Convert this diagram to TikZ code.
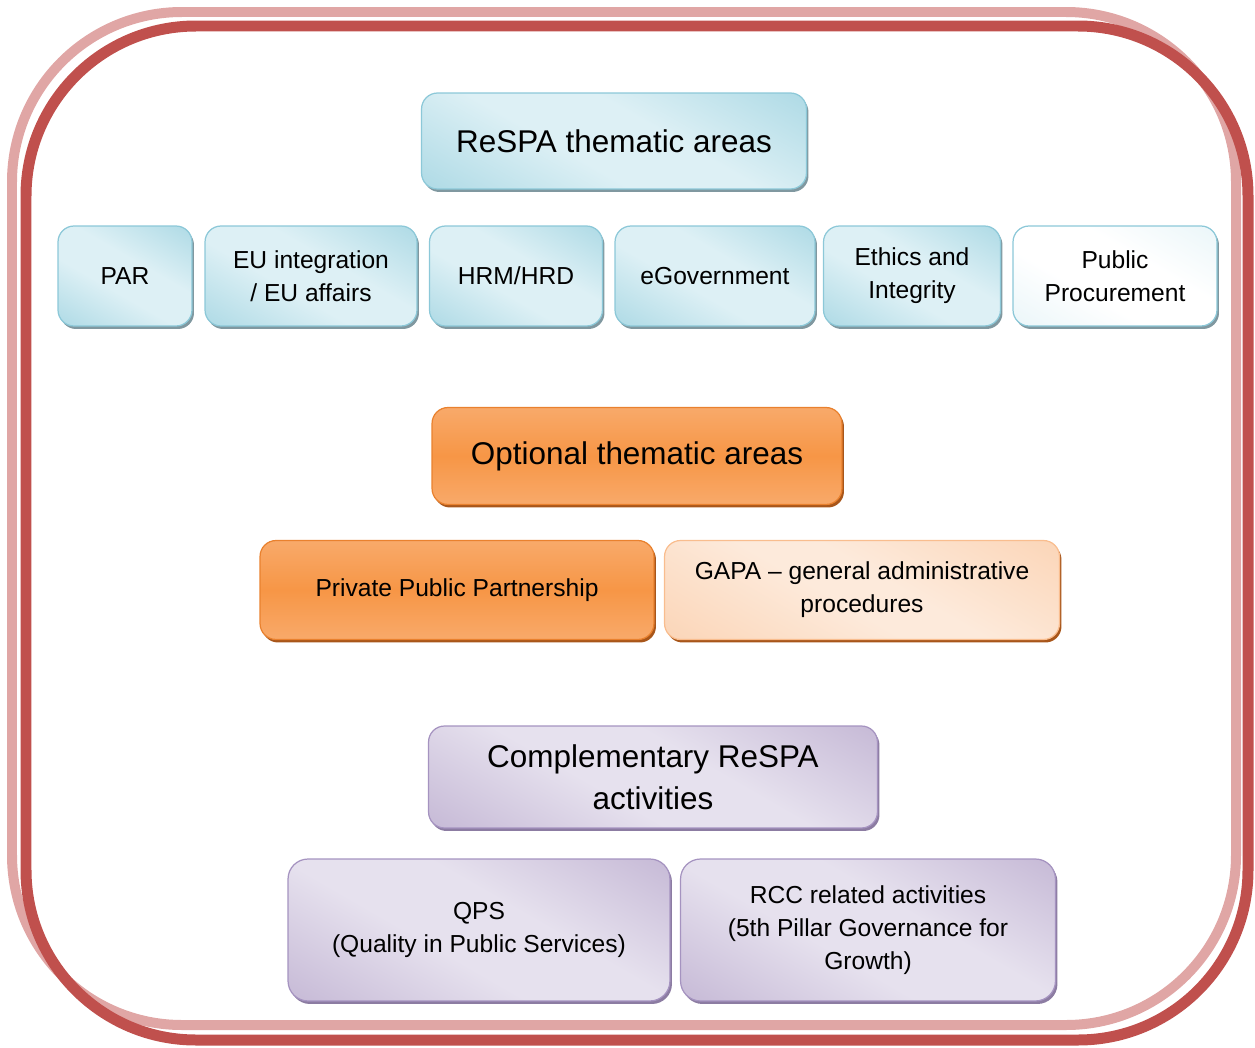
\documentclass[tikz,border=0pt]{standalone}
\usepackage{fontspec}
\setmainfont{Liberation Sans}
\usetikzlibrary{shadows}
\definecolor{rsframe}{HTML}{C0504D}
\definecolor{rsframelight}{HTML}{E0A6A5}
\definecolor{rsblue}{HTML}{92CDDC}
\definecolor{rsbluelight}{HTML}{DDF0F5}
\definecolor{rsblueline}{HTML}{8CC8D8}
\definecolor{rsblueshadow}{HTML}{8098A0}
\definecolor{rsorange}{HTML}{F79646}
\definecolor{rsorangelight}{HTML}{F9BD8E}
\definecolor{rsorangepale}{HTML}{FDEADB}
\definecolor{rsorangeline}{HTML}{E9812E}
\definecolor{rsorangeshadow}{HTML}{A8561A}
\definecolor{rspurple}{HTML}{B3A2C8}
\definecolor{rspurplelight}{HTML}{E6E1EE}
\definecolor{rspurpleline}{HTML}{A593C0}
\definecolor{rspurpleshadow}{HTML}{8C7CA2}

\pgfdeclarehorizontalshading{bluegrad}{100bp}{color(0bp)=(rsblue); color(42bp)=(rsbluelight); color(58bp)=(rsbluelight); color(100bp)=(rsblue)}
\pgfdeclarehorizontalshading{palebluegrad}{100bp}{color(0bp)=(rsbluelight); color(40bp)=(white); color(60bp)=(white); color(100bp)=(rsbluelight)}
\pgfdeclareverticalshading{orangegrad}{100bp}{color(0bp)=(rsorangelight); color(50bp)=(rsorange); color(100bp)=(rsorangelight)}
\pgfdeclarehorizontalshading{peachgrad}{100bp}{color(0bp)=(rsorangelight!80); color(45bp)=(rsorangepale); color(55bp)=(rsorangepale); color(100bp)=(rsorangelight!80)}
\pgfdeclarehorizontalshading{purplegrad}{100bp}{color(0bp)=(rspurple); color(42bp)=(rspurplelight); color(58bp)=(rspurplelight); color(100bp)=(rspurple)}

\newcommand{\smalltxt}{\fontsize{14}{18.8}\selectfont}
\newcommand{\bigtxt}{\fontsize{17.9}{23.9}\selectfont}

\tikzset{
  area/.style={rounded corners=0.32cm, line width=0.7pt, align=center,
               inner sep=0pt, font=\smalltxt},
  bluebox/.style={area, draw=rsblueline, shading=bluegrad, shading angle=60,
                  drop shadow={shadow xshift=0.04cm,shadow yshift=-0.06cm,
                  fill=rsblueshadow,opacity=1}},
  paleblue/.style={bluebox, shading=palebluegrad},
  orangebox/.style={area, draw=rsorangeline, shading=orangegrad,
                  drop shadow={shadow xshift=0.04cm,shadow yshift=-0.06cm,
                  fill=rsorangeshadow,opacity=1}},
  peachbox/.style={orangebox, draw=rsorangelight, shading=peachgrad, shading angle=60},
  purplebox/.style={area, draw=rspurpleline, shading=purplegrad, shading angle=60,
                  drop shadow={shadow xshift=0.04cm,shadow yshift=-0.06cm,
                  fill=rspurpleshadow,opacity=1}},
}

\begin{document}
\begin{tikzpicture}[x=0.02cm,y=-0.02cm]
    \useasboundingbox (0,0) rectangle (1255,1048);
    % frame
    \draw[rsframelight,line width=0.2cm,rounded corners=3.4cm] (12,12) rectangle (1236,1025);
    \draw[rsframe,line width=0.22cm,rounded corners=3.4cm] (26,26) rectangle (1248,1040);
    % ReSPA thematic areas
    \node[bluebox,font=\bigtxt,minimum width=7.7cm,minimum height=1.92cm] (respa) at (614,141) {ReSPA thematic areas};
    \node[bluebox,minimum width=2.68cm,minimum height=2cm] (par) at (125,276) {PAR};
    \node[bluebox,minimum width=4.24cm,minimum height=2cm] (eu) at (311,276) {EU integration\\/ EU affairs};
    \node[bluebox,minimum width=3.46cm,minimum height=2cm] (hrm) at (516,276) {HRM/HRD};
    \node[bluebox,minimum width=4cm,minimum height=2cm] (egov) at (715,276) {eGovernment};
    \node[bluebox,minimum width=3.54cm,minimum height=2cm] (ethics) at (912,276) {Ethics and\\Integrity};
    \node[paleblue,minimum width=4.08cm,minimum height=2cm] (procure) at (1115,276) {Public\\Procurement};
    % optional areas
    \node[orangebox,font=\bigtxt,minimum width=8.2cm,minimum height=1.94cm] (optional) at (637,456) {Optional thematic areas};
    \node[orangebox,minimum width=7.88cm,minimum height=1.98cm] (ppp) at (457,590) {Private Public Partnership};
    \node[peachbox,minimum width=7.9cm,minimum height=1.98cm] (gapa) at (862,590) {GAPA -- general administrative\\procedures};
    % complementary activities
    \node[purplebox,font=\bigtxt,minimum width=8.98cm,minimum height=2.04cm] (compl) at (653,777) {Complementary ReSPA\\activities};
    \node[purplebox,rounded corners=0.4cm,minimum width=7.64cm,minimum height=2.84cm] (qps) at (479,930) {QPS\\(Quality in Public Services)};
    \node[purplebox,rounded corners=0.4cm,minimum width=7.5cm,minimum height=2.84cm] (rcc) at (868,930) {RCC related activities\\(5th Pillar Governance for\\Growth)};
\end{tikzpicture}
\end{document}
